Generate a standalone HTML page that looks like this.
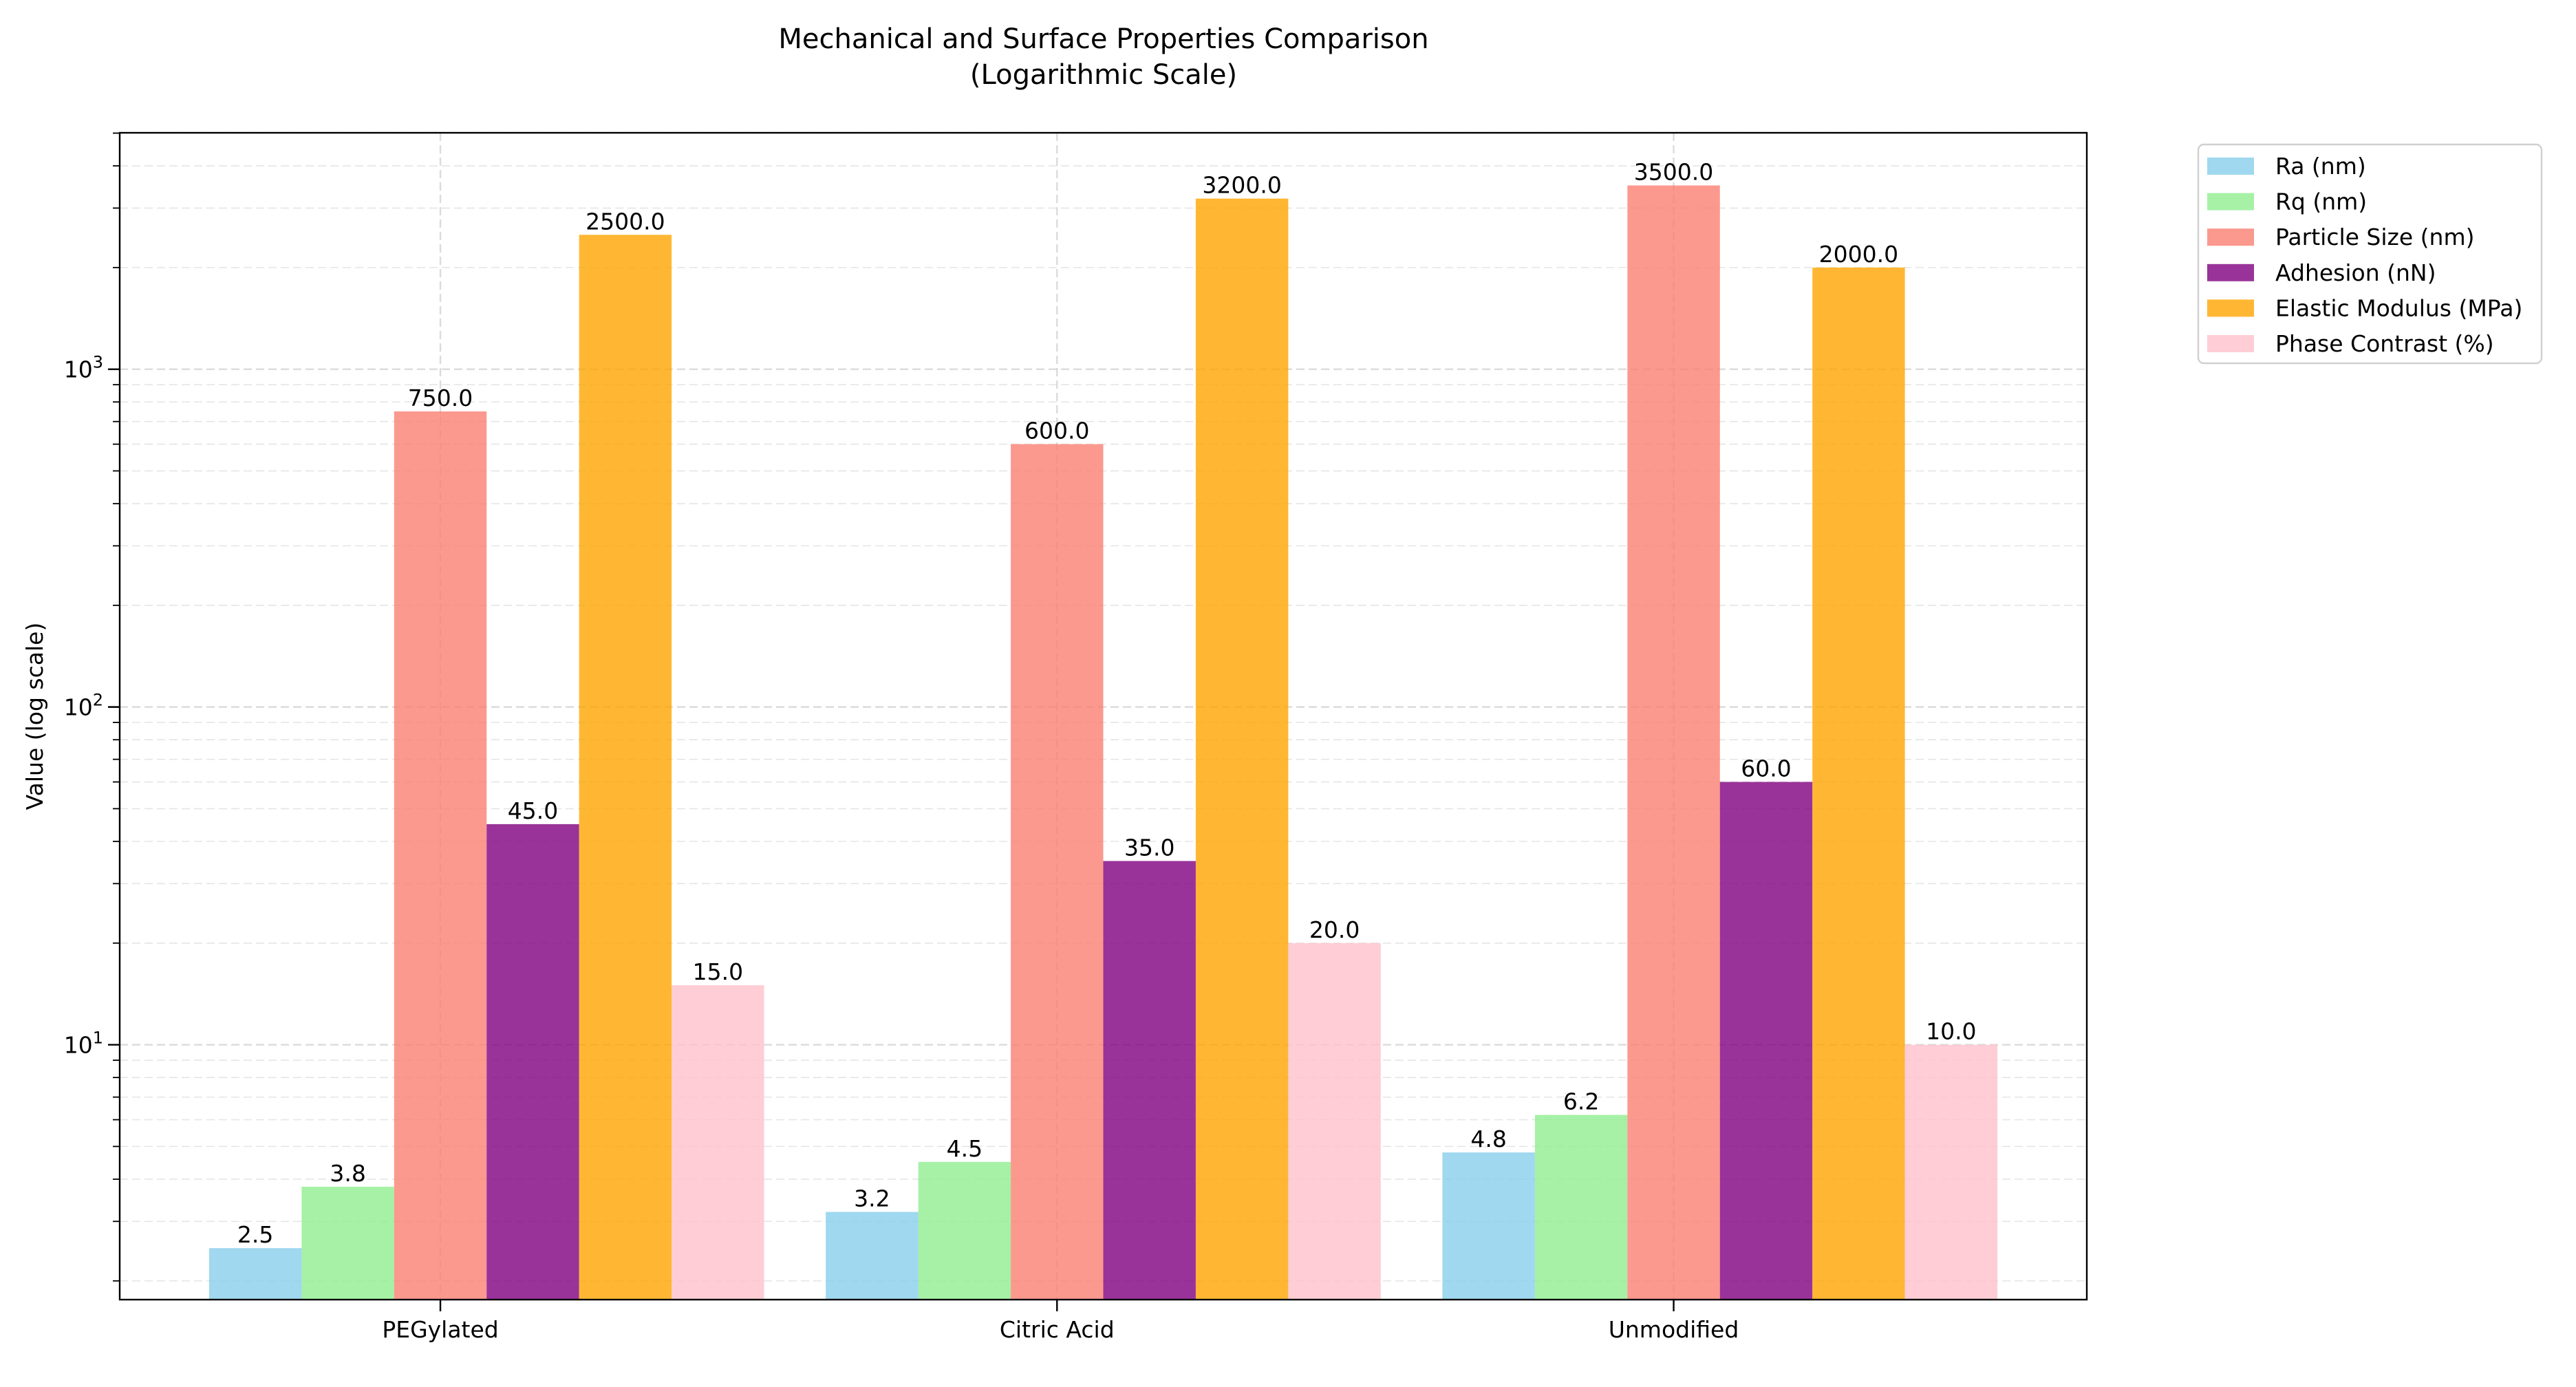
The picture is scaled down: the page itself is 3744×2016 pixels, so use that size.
<!DOCTYPE html>
<html><head><meta charset="utf-8"><style>
html,body{margin:0;padding:0;background:#fff;}
svg{display:block;font-family:"DejaVu Sans","Liberation Sans",sans-serif;}
</style></head><body>
<svg id="chart" width="3744" height="2016" viewBox="0 0 3744 2016"></svg>
<script>
const categories = ["PEGylated", "Citric Acid", "Unmodified"];
const seriesNames = ["Ra (nm)", "Rq (nm)", "Particle Size (nm)", "Adhesion (nN)", "Elastic Modulus (MPa)", "Phase Contrast (%)"];
const raValues = [2.5, 3.2, 4.8];
const rqValues = [3.8, 4.5, 6.2];
const particleValues = [750, 600, 3500];
const adhesionValues = [45, 35, 60];
const modulusValues = [2500, 3200, 2000];
const phaseValues = [15, 20, 10];
const yTickExps = [1, 2, 3];
const seriesColors = ["#87CEEB", "#90EE90", "#FA8072", "#800080", "#FFA500", "#FFC0CB"];

const allSeries = [raValues, rqValues, particleValues, adhesionValues, modulusValues, phaseValues];
const NS = "http://www.w3.org/2000/svg";
const svg = document.getElementById("chart");
const L = 174, R = 3033, T = 193, B = 1889;
const xMin = -0.52, xMax = 2.67;
const yMinLog = Math.log10(1.76), yMaxLog = 3.70;
const barW = 0.15;
function xs(v){ return L + (v - xMin) / (xMax - xMin) * (R - L); }
function ys(v){ return B - (Math.log10(v) - yMinLog) / (yMaxLog - yMinLog) * (B - T); }
function mk(tag, attrs, parent){
  const e = document.createElementNS(NS, tag);
  for (const k in attrs) e.setAttribute(k, attrs[k]);
  (parent || svg).appendChild(e);
  return e;
}
// title
const title = mk("text", {x: 1604, y: 70, "text-anchor": "middle", "font-size": 40, fill: "#000"});


title.innerHTML = '<tspan x="1604" y="70">Mechanical and Surface Properties Comparison</tspan><tspan x="1604" y="122">(Logarithmic Scale)</tspan>';

// grid
const grid = mk("g", {});


for (let e = 0; e <= 3; e++) {
  for (let m = 1; m <= 9; m++) {
    const v = m * Math.pow(10, e);
    if (v < 1.76 || v > 5012) continue;
    const y = ys(v);
    const gl = mk("line", {x1: L, x2: R, y1: y, y2: y, stroke: "#cccccc", "stroke-width": m === 1 ? 2.4 : 1.6, "stroke-dasharray": "12,6", opacity: m === 1 ? 0.7 : 0.5}, grid);
    
    
  }
}
categories.forEach((c, i) => {
  const x = xs(i);
  const gl = mk("line", {x1: x, x2: x, y1: T, y2: B, stroke: "#cccccc", "stroke-width": 2.4, "stroke-dasharray": "12,6", opacity: 0.7}, grid);
  
  
});

// bars
allSeries.forEach((vals, s) => {
  const g = mk("g", {});
  
  
  vals.forEach((v, i) => {
    const cx = i + (s - 2) * barW;
    const x0 = xs(cx - barW / 2), x1 = xs(cx + barW / 2);
    const y = ys(v);
    const r = mk("rect", {x: x0, y: y, width: x1 - x0, height: B - y, fill: seriesColors[s], "fill-opacity": 0.8}, g);
    
    
    const t = mk("text", {x: (x0 + x1) / 2, y: y - 8, "text-anchor": "middle", "font-size": 33, fill: "#000"}, g);
    
    
    t.textContent = v.toFixed(1);
  });
});

// axes frame
const frame = mk("rect", {x: L, y: T, width: R - L, height: B - T, fill: "none", stroke: "#000", "stroke-width": 2.4});



// y ticks
for (let e = 0; e <= 3; e++) {
  for (let m = 1; m <= 9; m++) {
    const v = m * Math.pow(10, e);
    if (v < 1.76 || v > 5012) continue;
    const y = ys(v);
    const tk = mk("line", {x1: L, x2: L - (m === 1 ? 17 : 10), y1: y, y2: y, stroke: "#000", "stroke-width": m === 1 ? 2.4 : 1.8});
    
    
  }
}
yTickExps.forEach(e => {
  const y = ys(Math.pow(10, e));
  const t = mk("text", {x: 150, y: y + 12, "text-anchor": "end", "font-size": 33, fill: "#000"});
  
  
  t.innerHTML = '10<tspan dy="-14" font-size="24">' + e + '</tspan>';
});
const yl = mk("text", {x: 62, y: (T + B) / 2, "text-anchor": "middle", "font-size": 33, fill: "#000", transform: "rotate(-90 62 " + ((T + B) / 2) + ")"});


yl.textContent = "Value (log scale)";

// x ticks
categories.forEach((c, i) => {
  const x = xs(i);
  const tk = mk("line", {x1: x, x2: x, y1: B, y2: B + 17, stroke: "#000", "stroke-width": 2.4});
  
  
  const t = mk("text", {x: x, y: 1944, "text-anchor": "middle", "font-size": 33, fill: "#000"});
  
  
  t.textContent = c;
});

// legend
const lg = mk("g", {});


const lbox = mk("rect", {x: 3195, y: 210, width: 499, height: 318, rx: 8, fill: "#fff", "fill-opacity": 0.8, stroke: "#d0d0d0", "stroke-width": 2.4}, lg);


seriesNames.forEach((n, s) => {
  const cy = 241 + s * 51.6;
  const p = mk("rect", {x: 3208, y: cy - 12, width: 68, height: 25, fill: seriesColors[s], "fill-opacity": 0.8}, lg);
  
  
  const t = mk("text", {x: 3307, y: cy + 12, "font-size": 33, fill: "#000"}, lg);
  
  
  t.textContent = n;
});
</script>
</body></html>
